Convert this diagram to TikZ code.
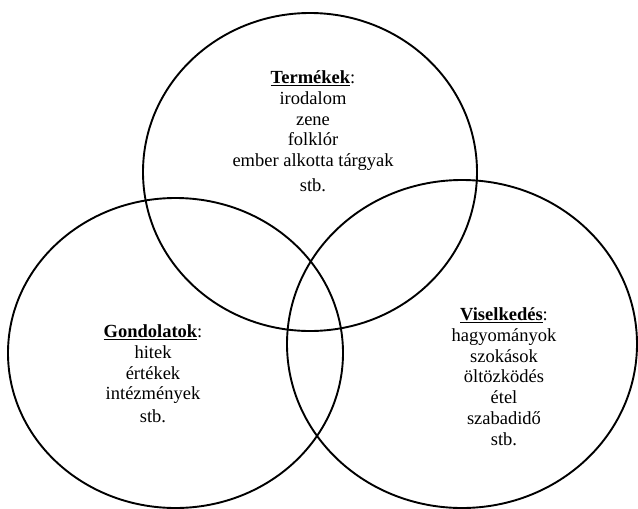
\documentclass[tikz,border=0pt]{standalone}
\usepackage{fontspec}
\setmainfont{Liberation Serif}
\usepackage{tikz}
\usetikzlibrary{positioning}
\tikzset{
    ring/.style={line width=1.9pt, black},
    culturetext/.style={font=\fontsize{18.5}{20.8}\selectfont, align=center, inner sep=0pt, anchor=north}
}
\newcommand{\cultHead}[1]{\underline{\textbf{#1}}:}

\begin{document}
\begin{tikzpicture}[x=1pt, y=-1pt]
    \useasboundingbox (0,0) rectangle (638,509);

    % Three overlapping circles
    \draw[ring] (310,172) ellipse [x radius=167pt, y radius=159pt];
    \draw[ring] (175.5,353) ellipse [x radius=167.5pt, y radius=155pt];
    \draw[ring] (462,344) ellipse [x radius=175pt, y radius=164pt];

    % Texts inside circles
    \node[culturetext] (termekek) at (313,70.5) {\cultHead{Termékek}\\irodalom\\zene\\folklór\\ember alkotta tárgyak\\[4pt]stb.};
    \node[culturetext] (gondolatok) at (153,324.5) {\cultHead{Gondolatok}\\hitek\\értékek\\intézmények\\[2pt]stb.};
    \node[culturetext] (viselkedes) at (504,307.5) {\cultHead{Viselkedés}\\hagyományok\\szokások\\öltözködés\\étel\\szabadidő\\stb.};

\end{tikzpicture}
\end{document}
